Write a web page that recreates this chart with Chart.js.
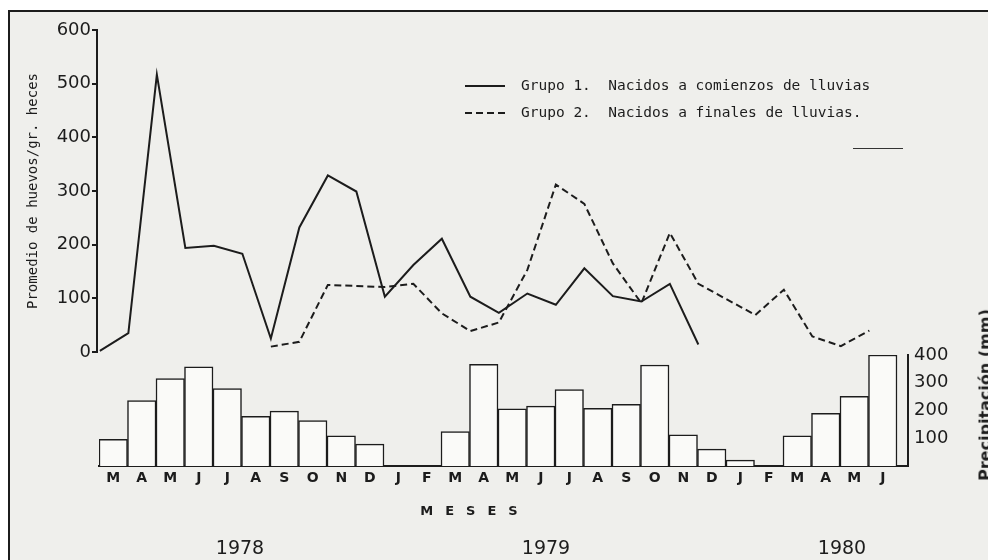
<!DOCTYPE html>
<html>
<head>
<meta charset="utf-8">
<script src="https://cdn.jsdelivr.net/npm/chart.js@4.4.0/dist/chart.umd.min.js"></script>
<style>
html,body{margin:0;padding:0;background:#fff;}
#wrap{position:relative;width:988px;height:560px;overflow:hidden;background:#fff;}
#paper{position:absolute;left:8px;top:10px;width:990px;height:560px;border-left:2px solid #1c1c1c;border-top:2px solid #1c1c1c;background:#efefec;}
canvas{position:absolute;left:0;top:0;}
.txt{position:absolute;color:#1c1c1c;white-space:pre;}
.leg{font-family:"DejaVu Sans Mono",monospace;font-size:14.5px;line-height:17px;}
</style>
</head>
<body>
<div id="wrap">
  <div id="paper"></div>
  <canvas id="eggs" width="988" height="560"></canvas>
  <canvas id="rain" width="988" height="560"></canvas>

  <svg class="txt" style="left:465px;top:80px" width="42" height="12"><line x1="0" y1="6" x2="40" y2="6" stroke="#1c1c1c" stroke-width="2"/></svg>
  <div class="txt leg" style="left:521px;top:77px">Grupo 1.  Nacidos a comienzos de lluvias</div>
  <svg class="txt" style="left:465px;top:107px" width="42" height="12"><line x1="0" y1="6" x2="40" y2="6" stroke="#1c1c1c" stroke-width="2" stroke-dasharray="7 4"/></svg>
  <div class="txt leg" style="left:521px;top:104px">Grupo 2.  Nacidos a finales de lluvias.</div>
  <div class="txt" style="left:853px;top:148px;width:50px;height:0;border-top:1.5px solid #333"></div>

  <div class="txt" style="left:475px;top:503px;transform:translateX(-50%);font:bold 13px 'DejaVu Sans';letter-spacing:12px">MESES</div>
  <div class="txt" style="left:240px;top:536px;transform:translateX(-50%);font:19px 'DejaVu Sans'">1978</div>
  <div class="txt" style="left:546px;top:536px;transform:translateX(-50%);font:19px 'DejaVu Sans'">1979</div>
  <div class="txt" style="left:842px;top:536px;transform:translateX(-50%);font:19px 'DejaVu Sans'">1980</div>
  <div class="txt" style="left:985px;top:395px;transform:translate(-50%,-50%) rotate(-90deg);font:bold 16px 'DejaVu Sans'">Precipitación (mm)</div>
</div>

<script>
// meses de marzo 1978 a junio 1980
var months = ['M','A','M','J','J','A','S','O','N','D','J','F','M','A','M','J','J','A','S','O','N','D','J','F','M','A','M','J'];
// huevos por gramo de heces
var grupo1 = [2,35,517,194,198,183,25,232,329,299,103,162,211,103,73,109,88,156,104,94,127,14,null,null,null,null,null,null];
var grupo2 = [null,null,null,null,null,null,10,19,125,123,121,127,72,39,55,153,312,276,165,91,222,127,98,69,116,29,11,40];
// precipitacion mensual (mm)
var precip = [96,236,315,357,279,179,198,164,109,79,0,0,124,366,206,216,275,208,222,364,112,61,21,0,109,190,251,400];
var eggTicks = [0,100,200,300,400,500,600];
var rainTicks = [100,200,300,400];

var ink = '#1c1c1c';

function points(arr, shift){
    var out = [];
    for(var i=0; i<arr.length; i++){
        out.push({x: i+shift, y: arr[i]});
    }
    return out;
}

new Chart(document.getElementById('eggs'), {
    type: 'line',
    data: {
        datasets: [
            {label: 'Grupo 1', data: points(grupo1, 0), borderColor: ink, borderWidth: 2, pointRadius: 0, tension: 0},
            {label: 'Grupo 2', data: points(grupo2, 0), borderColor: ink, borderWidth: 2, borderDash: [7,4], pointRadius: 0, tension: 0}
        ]
    },
    options: {
        responsive: false,
        animation: false,
        layout: {padding: {left: 0, right: 80, top: 30, bottom: 208}},
        plugins: {legend: {display: false}, tooltip: {enabled: false}},
        scales: {
            x: {type: 'linear', min: -0.1, max: 28.356, offset: false, display: false},
            y: {
                min: 0, max: 600,
                afterBuildTicks: function(s){ s.ticks = eggTicks.map(function(v){return {value: v};}); },
                ticks: {color: ink, font: {family: 'DejaVu Sans', size: 18}, padding: 1},
                grid: {drawOnChartArea: false, tickLength: 5, color: ink, lineWidth: 2},
                border: {color: ink, width: 2},
                title: {display: true, text: 'Promedio de huevos/gr. heces', color: ink,
                        font: {family: 'DejaVu Sans Mono', size: 14}, padding: {top: 25}},
                afterFit: function(s){ s.width = 97; }
            }
        }
    }
});

new Chart(document.getElementById('rain'), {
    type: 'bar',
    data: {
        datasets: [{
            label: 'Precipitación',
            data: points(precip, 0.5),
            backgroundColor: '#fafaf8',
            borderColor: ink,
            borderWidth: 1.5,
            barPercentage: 1,
            categoryPercentage: 1
        }]
    },
    options: {
        responsive: false,
        animation: false,
        layout: {padding: {left: 99, right: 0, top: 355, bottom: 0}},
        plugins: {legend: {display: false}, tooltip: {enabled: false}},
        scales: {
            x: {
                type: 'linear', min: 0, max: 28.386, offset: false,
                afterBuildTicks: function(s){ s.ticks = months.map(function(m,i){return {value: i+0.5};}); },
                ticks: {autoSkip: false, maxRotation: 0, color: ink, padding: 4,
                        font: {family: 'DejaVu Sans', weight: 'bold', size: 14},
                        callback: function(v, i){ return months[i]; }},
                grid: {display: false, drawTicks: false, offset: false},
                border: {color: ink, width: 2},
                afterFit: function(s){ s.height = 94; }
            },
            y: {
                position: 'right', min: 0, max: 400,
                afterBuildTicks: function(s){ s.ticks = rainTicks.map(function(v){return {value: v};}); },
                ticks: {color: ink, font: {family: 'DejaVu Sans', size: 18}, padding: 6},
                grid: {drawOnChartArea: false, drawTicks: false},
                border: {color: ink, width: 2},
                afterFit: function(s){ s.width = 80; }
            }
        }
    }
});
</script>
</body>
</html>
